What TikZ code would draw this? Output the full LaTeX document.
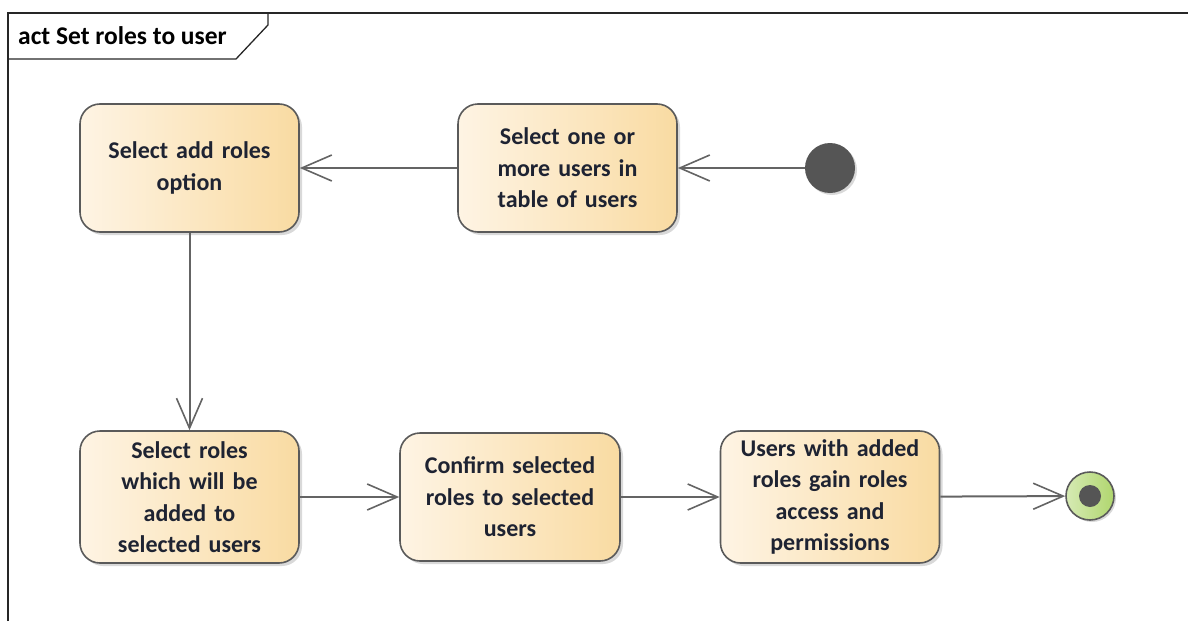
\documentclass[tikz,border=0pt]{standalone}
\usepackage{fontspec}
\setmainfont{Carlito}
\usetikzlibrary{arrows.meta,shadows}
\definecolor{actL}{RGB}{254,244,228}
\definecolor{actR}{RGB}{249,219,162}
\definecolor{edgeC}{RGB}{100,100,100}
\definecolor{borderC}{RGB}{90,90,90}
\definecolor{dotC}{RGB}{85,85,85}
\definecolor{finL}{RGB}{214,234,180}
\definecolor{finR}{RGB}{176,214,110}
\definecolor{txtC}{RGB}{30,35,50}
\tikzset{
  actbox/.style={draw=borderC, line width=1.6pt, rounded corners=20pt,
    left color=actL, right color=actR, minimum width=219pt, minimum height=128pt,
    align=center, text width=210pt, font=\bfseries\fontsize{24}{31.5}\selectfont, text=txtC,
    drop shadow={shadow xshift=3pt, shadow yshift=-3pt, fill=black!25, opacity=0.6}},
  flow/.style={draw=edgeC, line width=2pt, -{Straight Barb[length=30pt,width=26pt,line width=1.6pt]}},
  frameline/.style={draw=black!85, line width=1.3pt}
}
\begin{document}
\begin{tikzpicture}[x=1pt,y=-1pt]
\useasboundingbox (0,0) rectangle (1188,621);
% frame
\draw[frameline] (8,621) -- (8,13) -- (1188,13);
\draw[frameline] (8,59) -- (236,59) -- (268,25) -- (268,13);
\node[anchor=west, font=\bfseries\fontsize{25.5}{30}\selectfont, text=black, inner sep=0pt] (title) at (18,36) {act Set roles to user};
% nodes
\node[actbox] (A) at (189.5,168) {Select add roles\\option};
\node[actbox] (B) at (567.5,168) {Select one or\\more users in\\table of users};
\node[circle, fill=dotC, minimum size=50pt, inner sep=0pt,
  drop shadow={shadow xshift=2pt, shadow yshift=-2pt, fill=black!25, opacity=0.6}] (start) at (830,168) {};
\node[actbox, minimum height=132pt] (C) at (189.5,497) {Select roles\\which will be\\added to\\selected users};
\node[actbox, minimum width=220pt] (D) at (510,497) {Confirm selected\\roles to selected\\users};
\node[actbox, minimum height=132pt] (E) at (830,497) {Users with added\\roles gain roles\\access and\\permissions};
\node[circle, draw=borderC, line width=1.6pt, left color=finL, right color=finR, minimum size=48pt, inner sep=0pt,
  drop shadow={shadow xshift=2pt, shadow yshift=-2pt, fill=black!25, opacity=0.6}] (final) at (1090,496) {};
\node[circle, fill=dotC, minimum size=22pt, inner sep=0pt] (finaldot) at (final.center) {};
% edges
\draw[flow] (start) -- (B);
\draw[flow] (B) -- (A);
\draw[flow] (A) -- (C);
\draw[flow] (C) -- (D);
\draw[flow] (D) -- (E);
\draw[flow] (E) -- (final);
\end{tikzpicture}
\end{document}
